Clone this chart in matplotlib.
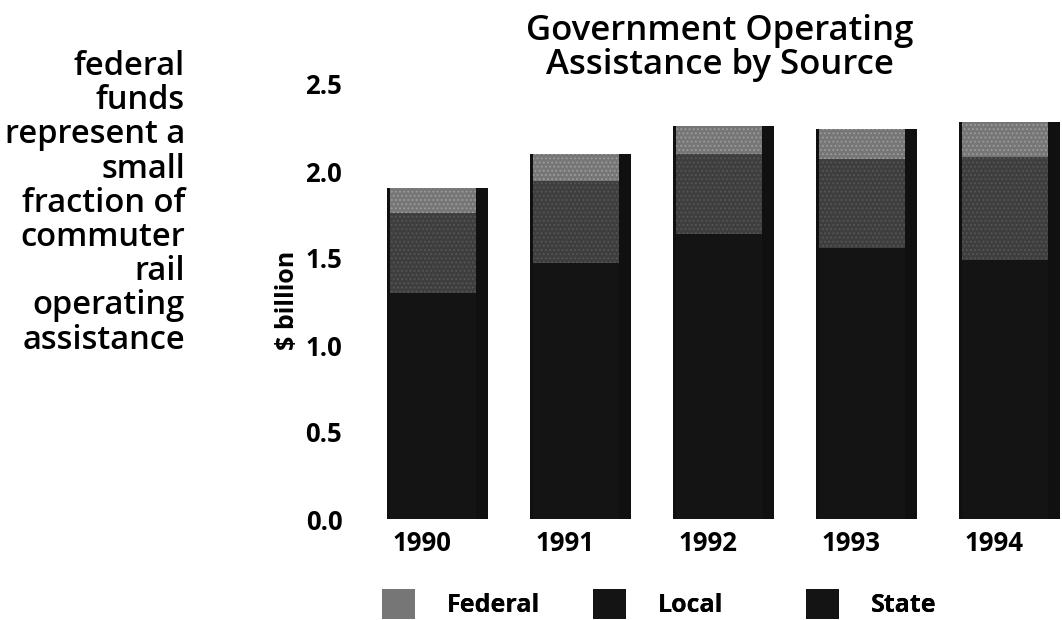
import matplotlib.pyplot as plt
from matplotlib.patches import Patch

W, H = 1062, 620

years = ["1990", "1991", "1992", "1993", "1994"]
state = [1.30, 1.47, 1.64, 1.56, 1.49]
local = [0.46, 0.47, 0.46, 0.51, 0.59]
federal = [0.14, 0.16, 0.16, 0.17, 0.20]

note_lines = ["federal", "funds", "represent a", "small", "fraction of",
              "commuter", "rail", "operating", "assistance"]
title_lines = ["Government Operating", "Assistance by Source"]

C_STATE = "#141414"
C_LOCAL = "#3e3e3e"
C_FED = "#767676"
C_EDGE = "#101010"

plt.rcParams["font.family"] = ["Open Sans", "DejaVu Sans"]
plt.rcParams["font.weight"] = "bold"
plt.rcParams["hatch.linewidth"] = 0.8


def px(x, y):
    # pixel position (from top-left) -> figure fraction
    return x / W, 1 - y / H


fig = plt.figure(figsize=(W / 100, H / 100), dpi=100)
AX_L = 352
ax = fig.add_axes([AX_L / W, (H - 519) / H, (W - AX_L) / W, (519 - 84) / H])

x = list(range(len(years)))
totals = [s + l + f for s, l, f in zip(state, local, federal)]
bottom2 = [s + l for s, l in zip(state, local)]

# dark frame behind each stacked column
ax.bar([i - 0.245 for i in x], totals, width=0.706, align="edge",
       color=C_EDGE, linewidth=0, zorder=1)
left = [i - 0.224 for i in x]
ax.bar(left, state, width=0.60, align="edge", color=C_STATE, linewidth=0, zorder=2)
ax.bar(left, local, width=0.60, bottom=state, align="edge", facecolor=C_LOCAL,
       edgecolor="#575757", hatch="....", linewidth=0, zorder=2)
ax.bar(left, federal, width=0.60, bottom=bottom2, align="edge", facecolor=C_FED,
       edgecolor="#9c9c9c", hatch="....", linewidth=0, zorder=2)

ax.set_xlim((AX_L - 422) / 143, (W - 422) / 143)
ax.set_ylim(0, 2.5)
ax.set_yticks([0, 0.5, 1.0, 1.5, 2.0, 2.5])
ax.set_yticklabels(["0.0", "0.5", "1.0", "1.5", "2.0", "2.5"])
ax.set_xticks(x)
ax.set_xticklabels(years)
ax.tick_params(length=0, labelsize=18.5)
ax.tick_params(axis="y", pad=7)
ax.tick_params(axis="x", pad=8)
for sp in ax.spines.values():
    sp.set_visible(False)

ax.set_ylabel("$ billion", fontsize=18, fontweight="bold", va="center")
ax.yaxis.set_label_coords((288 - AX_L) / (W - AX_L), (519 - 300) / 435)

# title, two centred lines
for k, line in enumerate(title_lines):
    fig.text(*px(720, 40 + k * 34), line, ha="center", va="baseline",
             fontsize=25, fontweight="semibold")

# side note, right aligned
for k, line in enumerate(note_lines):
    fig.text(*px(185, 75 + k * 34.2), line, ha="right", va="baseline",
             fontsize=23.5, fontweight="semibold")

# legend entries at fixed spots
entries = [("Federal", C_FED, 382), ("Local", C_STATE, 593), ("State", C_STATE, 806)]
for name, col, xl in entries:
    lg = fig.legend(handles=[Patch(facecolor=col, linewidth=0)], labels=[name],
                    loc="center left", bbox_to_anchor=px(xl, 604),
                    frameon=False, fontsize=18, handlelength=1.32,
                    handleheight=1.44, handletextpad=1.28, borderpad=0,
                    borderaxespad=0)
    fig.add_artist(lg)

fig.savefig("out.png", dpi=100)
